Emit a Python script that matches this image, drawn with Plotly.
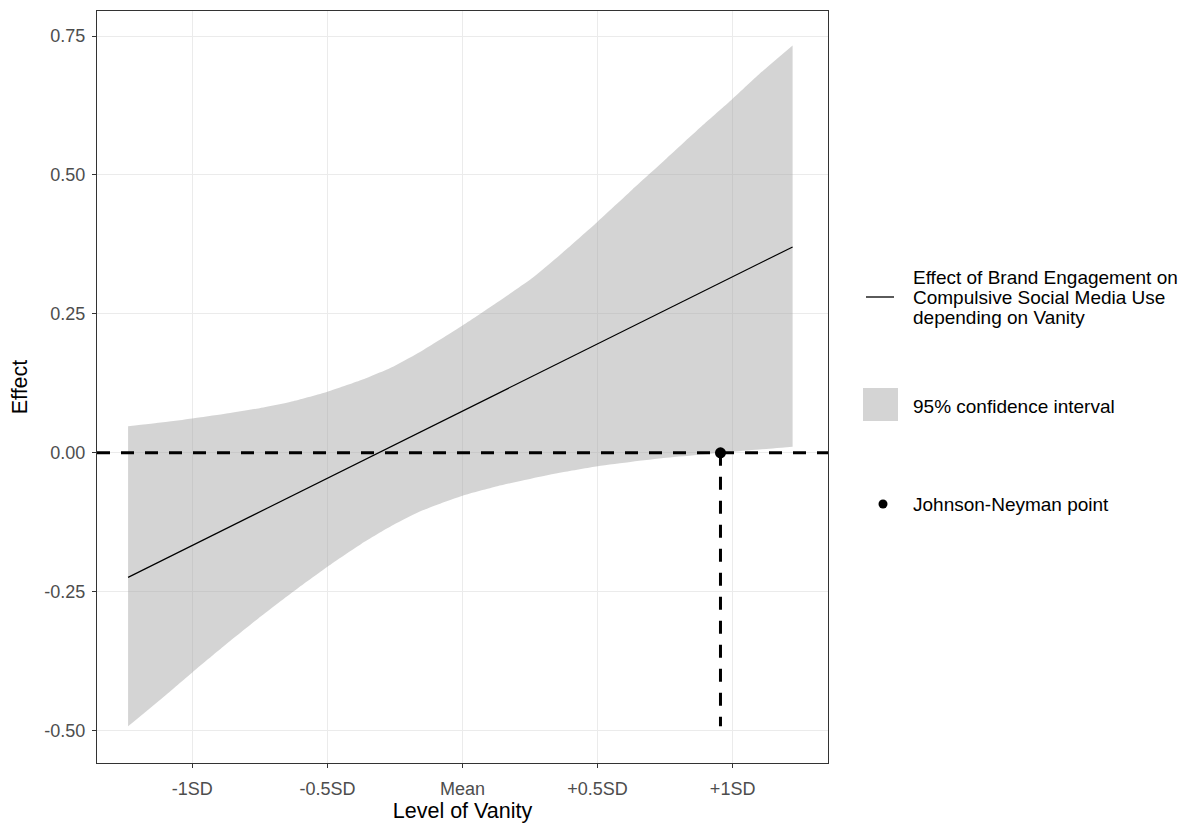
import plotly.graph_objects as go

# ---- data (level of vanity in SD units around the mean) ----
vanity_sd = [-1.238, -1.109, -1.0, -0.884, -0.756, -0.627, -0.5, -0.375, -0.257, -0.145,
             0.0, 0.129, 0.257, 0.37, 0.5, 0.627, 0.756, 0.884, 1.0, 1.109, 1.222]
ci_upper = [0.048, 0.055, 0.062, 0.070, 0.080, 0.093, 0.110, 0.131, 0.155, 0.185,
            0.229, 0.271, 0.314, 0.360, 0.416, 0.473, 0.530, 0.587, 0.637, 0.686, 0.733]
ci_lower = [-0.492, -0.440, -0.395, -0.348, -0.298, -0.250, -0.205, -0.164, -0.130, -0.103,
            -0.077, -0.060, -0.046, -0.035, -0.024, -0.016, -0.009, -0.003, 0.002, 0.0065, 0.011]

effect_x = [-1.238, 1.222]
effect_y = [-0.224, 0.3705]

jn_x = [0.955]
jn_y = [0.0]
jn_drop_bottom = -0.492

x_tick_vals = [-1.0, -0.5, 0.0, 0.5, 1.0]
x_tick_text = ["-1SD", "-0.5SD", "Mean", "+0.5SD", "+1SD"]
y_tick_vals = [-0.5, -0.25, 0.0, 0.25, 0.5, 0.75]
y_tick_text = ["-0.50", "-0.25", "0.00", "0.25", "0.50", "0.75"]

line_label = ["Effect of Brand Engagement on", "Compulsive Social Media Use", "depending on Vanity"]
ci_label = "95% confidence interval"
jn_label = "Johnson-Neyman point"

FONT = "Liberation Sans, Arial, sans-serif"
BAND = "rgba(160,160,160,0.45)"
DASH = "13px,11px"

# page geometry (browser body has an 8px margin)
BODY = 8
PLOT_L, PLOT_R, PLOT_T, PLOT_B = 97, 828, 11, 763
FIG_W, FIG_H = 1183, 816


def px(xp):
    return (xp - PLOT_L) / (PLOT_R - PLOT_L)


def py(yp):
    return (PLOT_B - yp) / (PLOT_B - PLOT_T)


fig = go.Figure()

# Confidence band (upper edge, then lower edge filled up to it)
edge = dict(width=0, color="rgba(0,0,0,0)", shape="spline", smoothing=0.6)
fig.add_trace(go.Scatter(
    x=vanity_sd, y=ci_upper, mode="lines", line=edge,
    showlegend=False, hoverinfo="skip",
))
fig.add_trace(go.Scatter(
    x=vanity_sd, y=ci_lower, mode="lines", line=edge,
    fill="tonexty", fillcolor=BAND,
    showlegend=False, hoverinfo="skip",
))

# Effect line
fig.add_trace(go.Scatter(
    x=effect_x, y=effect_y, mode="lines",
    line=dict(color="black", width=1.2), showlegend=False,
))

# Drop line from the Johnson-Neyman point
fig.add_trace(go.Scatter(
    x=[jn_x[0], jn_x[0]], y=[jn_y[0], jn_drop_bottom], mode="lines",
    line=dict(color="black", width=3, dash=DASH),
    showlegend=False, hoverinfo="skip",
))

# Johnson-Neyman point
fig.add_trace(go.Scatter(
    x=jn_x, y=jn_y, mode="markers",
    marker=dict(color="black", size=11), showlegend=False,
))

fig.update_layout(
    width=FIG_W, height=FIG_H,
    margin=dict(l=PLOT_L - BODY, r=FIG_W - (PLOT_R - BODY), t=PLOT_T - BODY, b=FIG_H - (PLOT_B - BODY)),
    paper_bgcolor="white", plot_bgcolor="white",
    font=dict(family=FONT, color="black"),
    showlegend=False,
)

# Zero reference line
fig.add_hline(y=0, line=dict(color="black", width=3, dash=DASH), layer="above")

# ---- legend (drawn as keys + labels) ----
LEG_FONT = dict(family=FONT, size=19, color="black")
TEXT_X = 911
fig.add_shape(type="path", xref="paper", yref="paper",
              path=f"M {px(866)} {py(297)} L {px(894)} {py(297)}",
              line=dict(color="black", width=1.3))
fig.add_shape(type="rect", xref="paper", yref="paper",
              x0=px(863), x1=px(898), y0=py(388), y1=py(421),
              fillcolor=BAND, line=dict(width=0))
fig.add_shape(type="circle", xref="paper", yref="paper",
              x0=px(878.5), x1=px(887.5), y0=py(499.5), y1=py(508.5),
              fillcolor="black", line=dict(width=0))

for txt, yc in zip(line_label, [278, 297.5, 317.5]):
    fig.add_annotation(text=txt, xref="paper", yref="paper", x=px(TEXT_X), y=py(yc),
                       xanchor="left", yanchor="middle", showarrow=False, font=LEG_FONT)
fig.add_annotation(text=ci_label, xref="paper", yref="paper", x=px(TEXT_X), y=py(406),
                   xanchor="left", yanchor="middle", showarrow=False, font=LEG_FONT)
fig.add_annotation(text=jn_label, xref="paper", yref="paper", x=px(TEXT_X), y=py(504),
                   xanchor="left", yanchor="middle", showarrow=False, font=LEG_FONT)

axis_common = dict(
    tickfont=dict(size=18, color="#4d4d4d", family=FONT),
    ticks="outside", ticklen=4, tickcolor="#333333", tickwidth=1.2,
    showgrid=True, gridcolor="#ebebeb", gridwidth=1.3,
    showline=True, linecolor="#333333", linewidth=1.3, mirror=True,
    zeroline=False,
)
fig.update_xaxes(
    range=[-1.353, 1.353], tickvals=x_tick_vals, ticktext=x_tick_text,
    ticklabelstandoff=5,
    title=dict(text="Level of Vanity", font=dict(size=21.5, color="black", family=FONT), standoff=4),
    **axis_common,
)
fig.update_yaxes(
    range=[-0.558, 0.795], tickvals=y_tick_vals, ticktext=y_tick_text,
    ticklabelstandoff=3,
    title=dict(text="Effect", font=dict(size=21.5, color="black", family=FONT), standoff=10),
    **axis_common,
)

fig.write_html("out.html")
